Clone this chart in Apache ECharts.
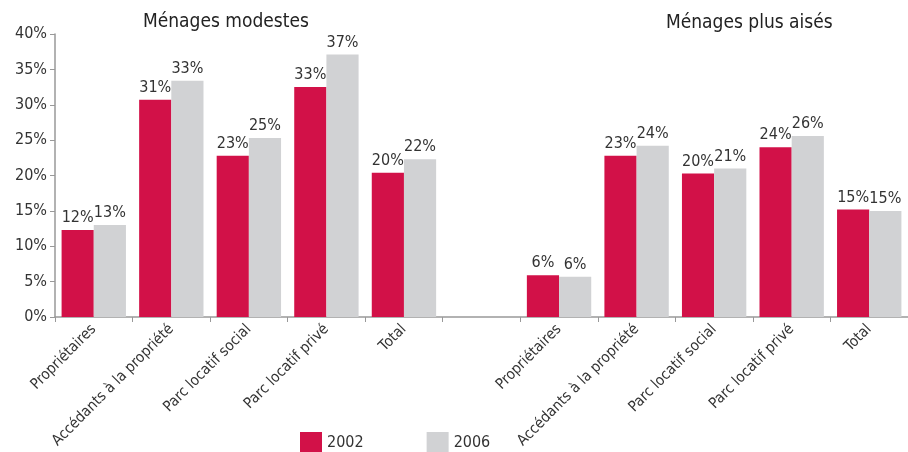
<!DOCTYPE html>
<html><head><meta charset="utf-8">
<script src="https://cdn.jsdelivr.net/npm/echarts@6/dist/echarts.min.js"></script>
<style>html,body{margin:0;padding:0;background:#fff}#c{width:908px;height:452px}</style>
</head><body><div id="c"></div>
<script>
var categories = ['Propriétaires','Accédants à la propriété','Parc locatif social','Parc locatif privé','Total','',
                  'Propriétaires','Accédants à la propriété','Parc locatif social','Parc locatif privé','Total'];
var values2002 = [12.3, 30.7, 22.8, 32.5, 20.4, null, 5.9, 22.8, 20.3, 24.0, 15.2];
var values2006 = [13.0, 33.4, 25.3, 37.1, 22.3, null, 5.7, 24.2, 21.0, 25.6, 15.0];
var seriesNames = ['2002', '2006'];
var groupTitles = ['Ménages modestes', 'Ménages plus aisés'];

var FONT = "'Liberation Sans Narrow', 'DejaVu Sans Condensed', 'Liberation Sans', sans-serif";
var chart = echarts.init(document.getElementById('c'));
var lbl = {show: true, position: 'top', distance: 4, color: '#333', fontSize: 16, fontFamily: FONT,
           formatter: function (p) { return Math.round(p.value) + '%'; }};
chart.setOption({
  animation: false,
  textStyle: {fontFamily: FONT},
  graphic: [
    {type: 'text', left: 143, top: 13, style: {text: groupTitles[0], fontSize: 19, fontFamily: FONT, fill: '#222'}},
    {type: 'text', left: 666, top: 14, style: {text: groupTitles[1], fontSize: 19, fontFamily: FONT, fill: '#222'}}
  ],
  legend: {
    left: 295, top: 427, itemWidth: 22, itemHeight: 21, itemGap: 63, icon: 'rect',
    textStyle: {fontSize: 16, color: '#333', fontFamily: FONT},
    data: seriesNames
  },
  grid: {left: 55, right: -8, top: 34, bottom: 135, containLabel: false},
  xAxis: {
    type: 'category', data: categories,
    axisLine: {lineStyle: {color: '#999', width: 1.5}},
    axisTick: {show: true, length: 5, lineStyle: {color: '#999'}, alignWithLabel: false},
    axisLabel: {rotate: 45, interval: 0, color: '#333', fontSize: 15, fontFamily: FONT, margin: 10}
  },
  yAxis: {
    type: 'value', min: 0, max: 40, interval: 5,
    axisLine: {show: true, lineStyle: {color: '#999', width: 1.5}},
    axisTick: {show: true, length: 5, lineStyle: {color: '#999'}},
    splitLine: {show: false},
    axisLabel: {color: '#333', fontSize: 16, fontFamily: FONT, margin: 8,
                formatter: function (v) { return v + '%'; }}
  },
  series: [
    {name: seriesNames[0], type: 'bar', data: values2002, barGap: '0%', barCategoryGap: '17%',
     itemStyle: {color: '#d21148'}, label: lbl},
    {name: seriesNames[1], type: 'bar', data: values2006, barGap: '0%', barCategoryGap: '17%',
     itemStyle: {color: '#d1d2d4'}, label: lbl}
  ]
});
</script></body></html>
